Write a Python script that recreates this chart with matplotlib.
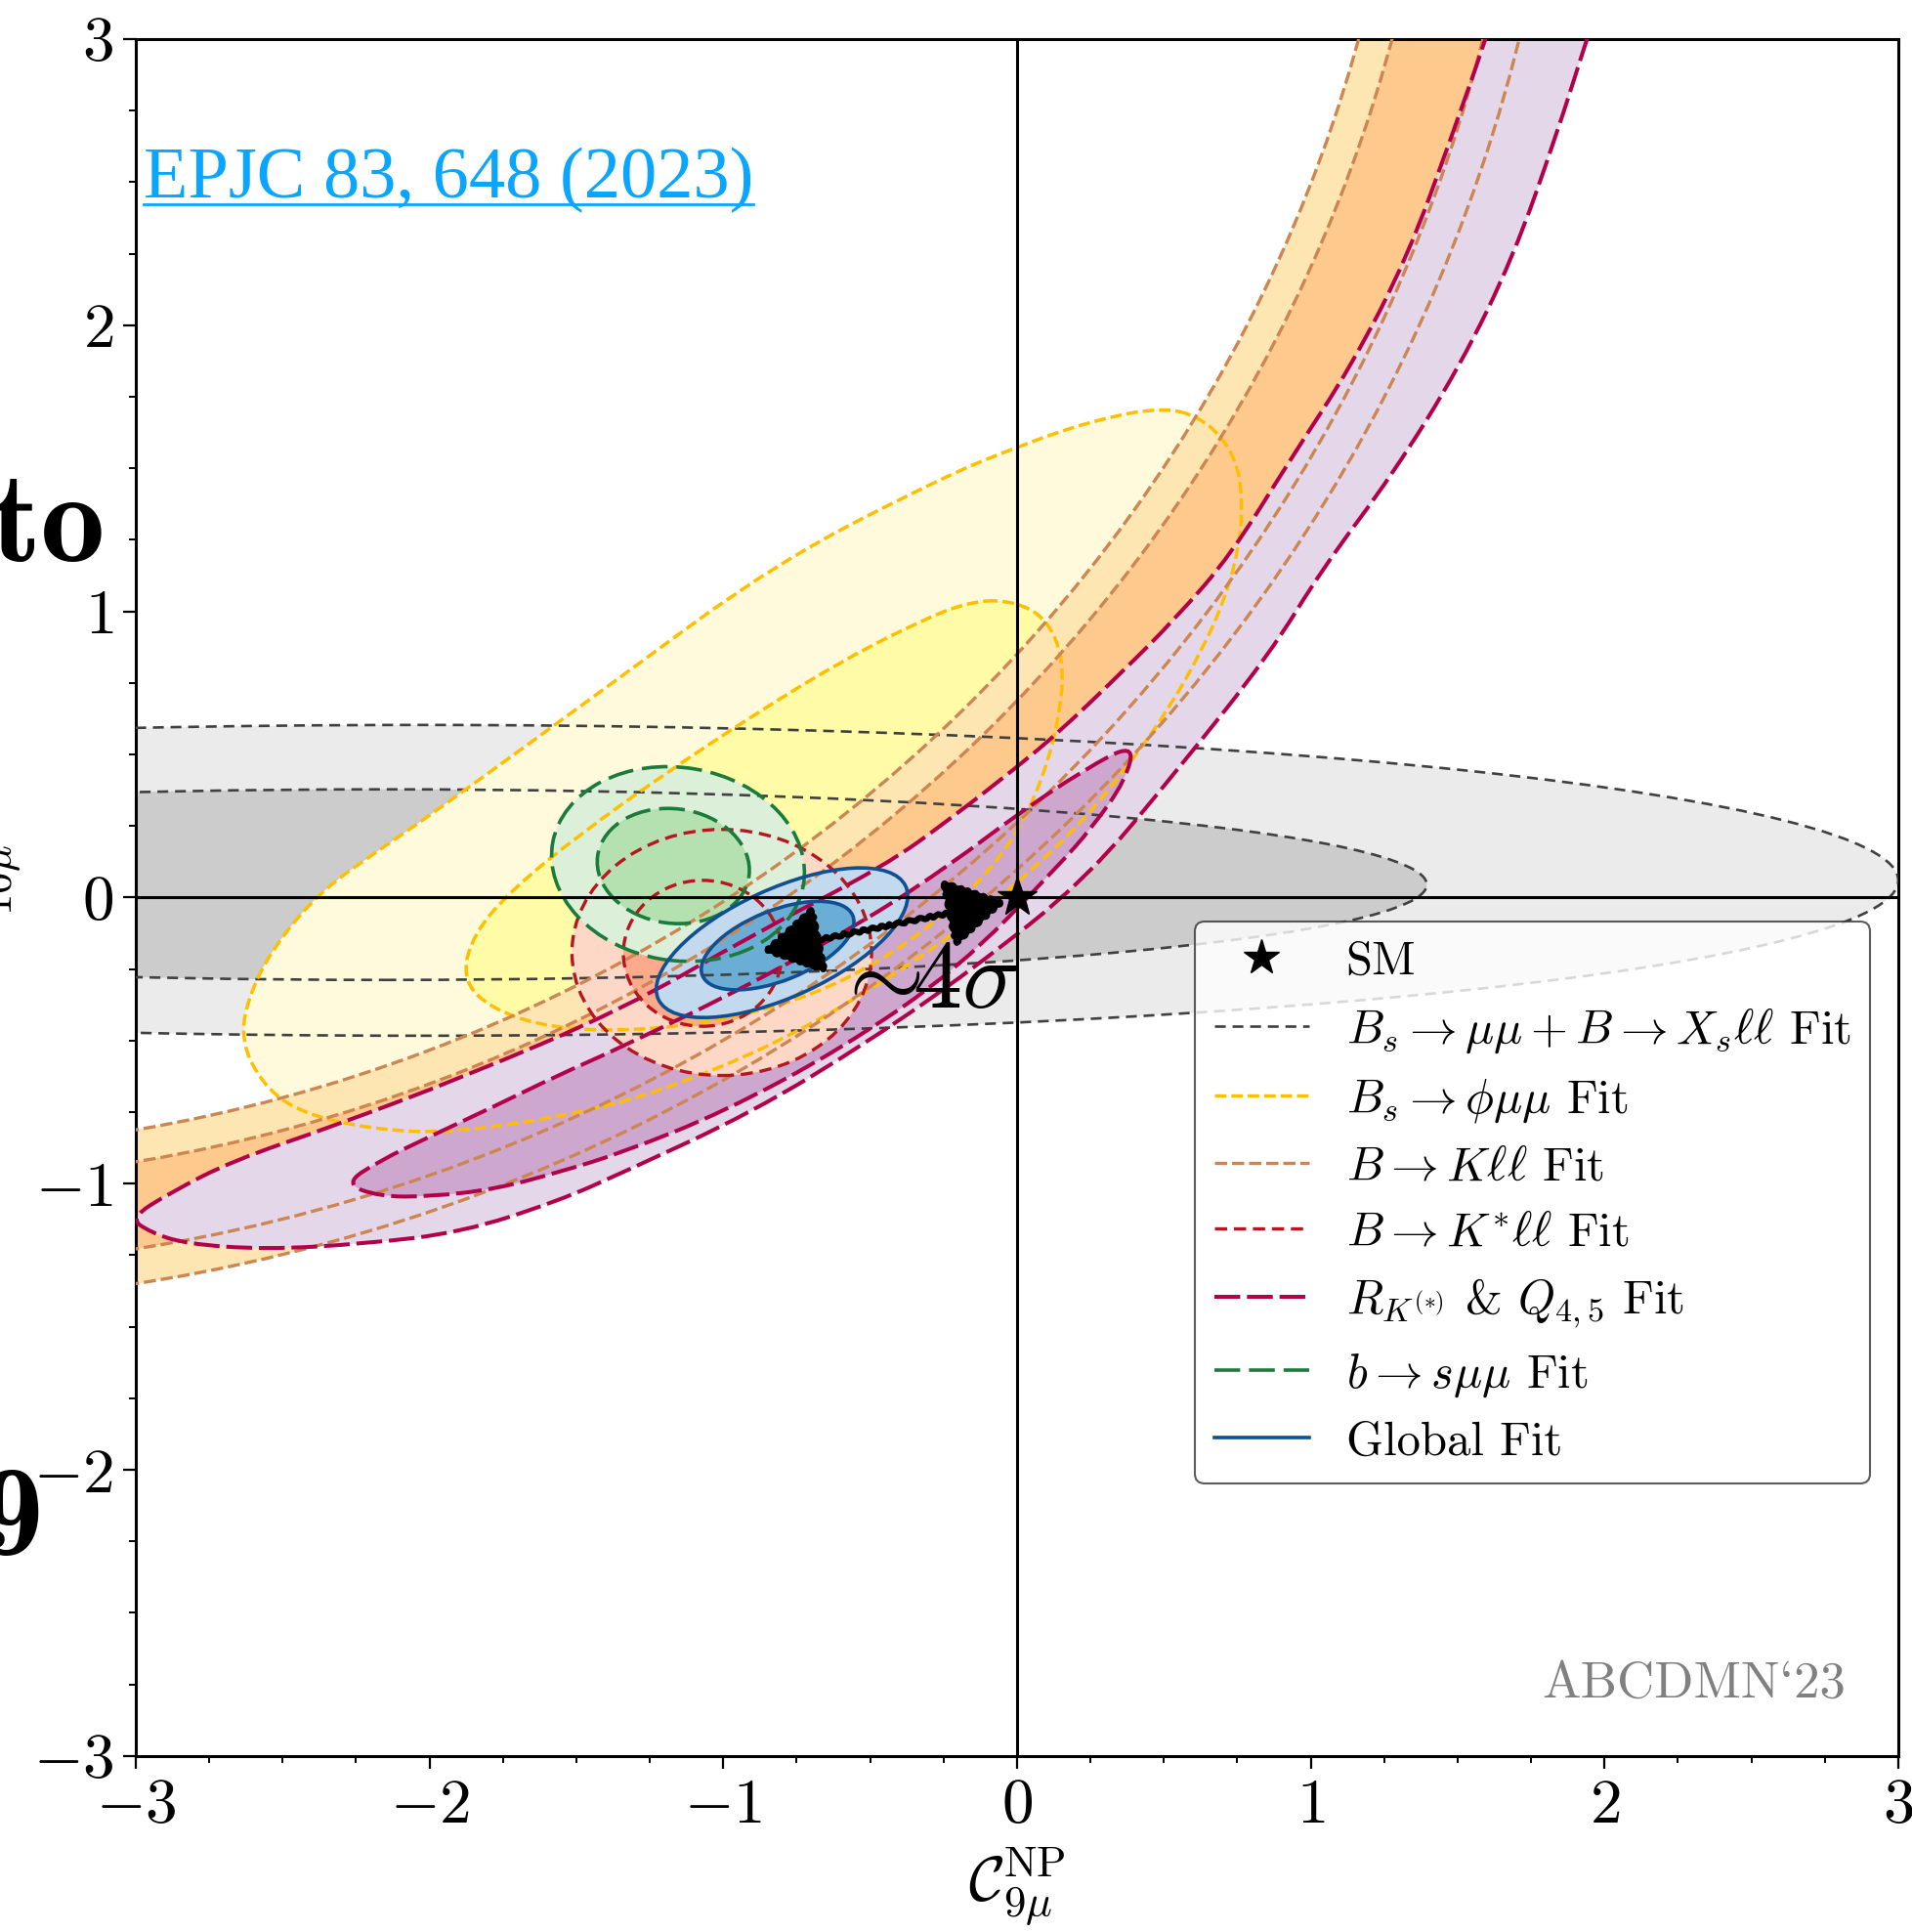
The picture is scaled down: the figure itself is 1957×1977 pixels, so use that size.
import numpy as np
import matplotlib
matplotlib.use("Agg")
import matplotlib.pyplot as plt
from matplotlib.patches import Ellipse, Annulus, Circle, PathPatch
from matplotlib.path import Path
from matplotlib.lines import Line2D
from matplotlib.ticker import MultipleLocator, AutoMinorLocator

plt.rcParams.update({
    "font.family": "serif",
    "font.serif": ["cmr10"],
    "mathtext.fontset": "cm",
    "axes.formatter.use_mathtext": True,
    "lines.scale_dashes": False,
})

# ---- data (C9 NP on x, C10 NP on y) ----
# ellipse regions: centre x, centre y, full width, full height, angle (deg)
bsmumu_2s = (-2.03, 0.06, 10.06, 1.086, 0.0)
bsmumu_1s = (-2.15, 0.045, 7.09, 0.666, 0.0)
kstar_2s = (-1.005, -0.192, 1.02, 0.86, 0.0)
kstar_1s = (-1.07, -0.195, 0.54, 0.51, 0.0)
bsmm_2s = (-1.154, 0.117, 0.866, 0.674, -10.0)
bsmm_1s = (-1.17, 0.11, 0.52, 0.40, -8.0)
global_2s = (-0.80, -0.158, 0.93, 0.376, 25.3)
global_1s = (-0.815, -0.168, 0.553, 0.245, 22.4)

# Bs -> phi mu mu : boundary points
phi_2s_x = [0.506, 0.25, 0.0, -0.25, -0.82, -1.39, -1.98, -2.18, -2.36, -2.50,
            -2.60, -2.646, -2.58, -2.45, -2.20, -1.91, -1.39, -1.011, -0.725,
            -0.439, -0.191, 0.038, 0.229, 0.382, 0.515, 0.630, 0.706, 0.754,
            0.769, 0.744, 0.649]
phi_2s_y = [1.717, 1.665, 1.575, 1.47, 1.17, 0.74, 0.30, 0.16, 0.03, -0.13,
            -0.30, -0.48, -0.64, -0.75, -0.81, -0.824, -0.736, -0.597, -0.458,
            -0.284, -0.110, 0.082, 0.273, 0.465, 0.656, 0.865, 1.039, 1.213,
            1.387, 1.543, 1.665]
phi_1s_x = [-0.038, 0.095, 0.162, 0.143, 0.086, 0.0, -0.134, -0.286, -0.477,
            -0.725, -1.011, -1.297, -1.584, -1.794, -1.889, -1.851, -1.717,
            -1.488, -1.202, -0.897, -0.591, -0.324, -0.172]
phi_1s_y = [1.042, 0.986, 0.830, 0.621, 0.412, 0.221, 0.047, -0.092, -0.231,
            -0.353, -0.431, -0.466, -0.458, -0.388, -0.284, -0.127, 0.030,
            0.221, 0.430, 0.638, 0.830, 0.969, 1.030]

# B -> K ll : circular bands around a common centre (inner, outer radius)
bkll_centre = (-3.9, 4.35)
bkll_2s = (5.24, 5.77)
bkll_1s = (5.35, 5.65)

# R_K(*) & Q4,5 : boundary points
rk_2s_x = [1.63, 1.596, 1.48, 1.33, 1.14, 0.93, 0.73, 0.54, 0.35, 0.14, 0.0,
           -0.22, -0.45, -0.9, -1.34, -1.89, -2.33, -2.67, -2.88, -3.02,
           -2.95, -2.83, -2.56, -2.22, -1.89, -1.56, -1.34, -0.9, -0.5, -0.15,
           0.236, 0.55, 0.86, 1.04, 1.28, 1.51, 1.69, 1.835, 1.94, 1.98]
rk_2s_y = [3.12, 3.0, 2.66, 2.24, 1.86, 1.53, 1.2, 0.975, 0.78, 0.575, 0.456,
           0.28, 0.11, -0.13, -0.39, -0.63, -0.80, -0.92, -1.03, -1.12,
           -1.17, -1.21, -1.23, -1.21, -1.17, -1.06, -0.96, -0.75, -0.5, -0.25,
           0.063, 0.45, 0.85, 1.15, 1.48, 1.86, 2.24, 2.66, 3.0, 3.12]
rk_1s_x = [0.40, 0.229, 0.0, -0.22, -0.5, -0.9, -1.34, -1.56, -1.78, -2.0,
           -2.17, -2.29, -2.17, -2.0, -1.78, -1.56, -1.34, -1.0, -0.6, -0.2,
           0.14, 0.256, 0.37]
rk_1s_y = [0.54, 0.447, 0.29, 0.12, -0.07, -0.3, -0.52, -0.62, -0.73, -0.836,
           -0.92, -1.00, -1.045, -1.045, -1.02, -0.96, -0.89, -0.75, -0.53, -0.25,
           0.11, 0.245, 0.41]

sm_point = (0.0, 0.0)
best_fit = (-0.868, -0.188)

legend_labels = [
    "SM",
    r"$B_s\to\mu\mu + B\to X_s\ell\ell$ Fit",
    r"$B_s\to\phi\mu\mu$ Fit",
    r"$B\to K\ell\ell$ Fit",
    r"$B\to K^{*}\ell\ell$ Fit",
    r"$R_{K^{(*)}}$ & $Q_{4,5}$ Fit",
    r"$b\to s\mu\mu$ Fit",
    "Global Fit",
]

# styles: (outer fill, inner fill, line colour, dash pattern, linewidth)
st_gray = ("#ebebeb", "#cccccc", "#404040", (0, (8, 5)), 1.9)
st_phi = ("#fffadb", "#fffba6", "#ffbf00", (0, (8.5, 3.6)), 2.5)
st_bk = ("#fee6b3", "#fec98c", "#cd8552", (0, (9, 3.6)), 2.4)
st_kst = ("#fdd8c6", "#fcaa8b", "#b5161f", (0, (9, 5)), 2.4)
st_rk = ("#e3d7e9", "#cea7cf", "#b3004b", (0, (19, 5)), 2.9)
st_bs = ("#dcf0d9", "#b5e1b1", "#1b7b3a", (0, (19, 6.5)), 2.6)
st_gl = ("#c3d9ee", "#6aaed6", "#0f4f92", "-", 2.6)


def spline_path(xs, ys):
    p = np.column_stack([xs, ys])
    m = (p + np.roll(p, -1, axis=0)) / 2
    verts = [m[-1]]
    codes = [Path.MOVETO]
    for i in range(len(p)):
        verts += [p[i], m[i]]
        codes += [Path.CURVE3, Path.CURVE3]
    verts.append(m[-1])
    codes.append(Path.CLOSEPOLY)
    return Path(verts, codes)


fig = plt.figure(figsize=(19.57, 19.77), dpi=100)
ax = fig.add_axes([0.0710, 0.0911, 0.9218, 0.8887])

z = [1.0]


def add_ellipse(par, fc, st):
    cx, cy, w, h, a = par
    ax.add_patch(Ellipse((cx, cy), w, h, angle=a, fc=fc, ec="none", zorder=z[0]))
    ax.add_patch(Ellipse((cx, cy), w, h, angle=a, fill=False, ec=st[2],
                         ls=st[3], lw=st[4], zorder=z[0] + 2))
    z[0] += 0.05


def add_shape(xs, ys, fc, st):
    path = spline_path(xs, ys)
    ax.add_patch(PathPatch(path, fc=fc, ec="none", zorder=z[0]))
    ax.add_patch(PathPatch(path, fill=False, ec=st[2], ls=st[3], lw=st[4],
                           zorder=z[0] + 2))
    z[0] += 0.05


def add_band(radii, fc, st):
    r_in, r_out = radii
    ax.add_patch(Annulus(bkll_centre, r_out, r_out - r_in, fc=fc, ec="none",
                         zorder=z[0]))
    for r in radii:
        ax.add_patch(Circle(bkll_centre, r, fill=False, ec=st[2], ls=st[3],
                            lw=st[4], zorder=z[0] + 2))
    z[0] += 0.05


add_ellipse(bsmumu_2s, st_gray[0], st_gray)
add_ellipse(bsmumu_1s, st_gray[1], st_gray)
add_shape(phi_2s_x, phi_2s_y, st_phi[0], st_phi)
add_shape(phi_1s_x, phi_1s_y, st_phi[1], st_phi)
add_band(bkll_2s, st_bk[0], st_bk)
add_band(bkll_1s, st_bk[1], st_bk)
add_shape(rk_2s_x, rk_2s_y, st_rk[0], st_rk)
add_shape(rk_1s_x, rk_1s_y, st_rk[1], st_rk)
add_ellipse(kstar_2s, st_kst[0], st_kst)
add_ellipse(kstar_1s, st_kst[1], st_kst)
add_ellipse(bsmm_2s, st_bs[0], st_bs)
add_ellipse(bsmm_1s, st_bs[1], st_bs)
add_ellipse(global_2s, st_gl[0], st_gl)
add_ellipse(global_1s, st_gl[1], st_gl)

ax.axhline(0, color="k", lw=2.2, zorder=4)
ax.axvline(0, color="k", lw=2.2, zorder=4)

# pull from best fit to SM
ann = ax.annotate("", xy=(sm_point[0] - 0.038, sm_point[1] - 0.014), xytext=best_fit,
                  arrowprops=dict(arrowstyle="<|-|>,head_length=1.7,head_width=1.0",
                                  color="k", lw=4.5, mutation_scale=22,
                                  shrinkA=0, shrinkB=0), zorder=5)
ann.arrow_patch.set_sketch_params(scale=1.2, length=10, randomness=2)
ax.text(-0.312, -0.385, r"${\sim}\!\!4\sigma$", fontsize=72, ha="center",
        va="baseline", zorder=6)

ax.plot(*sm_point, marker="*", ms=30, color="k", ls="none", zorder=7)

ax.set_xlim(-3, 3)
ax.set_ylim(-3, 3)
ax.xaxis.set_major_locator(MultipleLocator(1))
ax.yaxis.set_major_locator(MultipleLocator(1))
ax.xaxis.set_minor_locator(AutoMinorLocator(4))
ax.yaxis.set_minor_locator(AutoMinorLocator(4))
ax.tick_params(which="major", direction="out", length=9.4, width=1.6,
               labelsize=47, pad=7)
ax.tick_params(which="minor", direction="out", length=5, width=1.4)
for s in ax.spines.values():
    s.set_linewidth(2.2)

ax.set_xlabel(r"$\mathcal{C}_{9\mu}^{\rm NP}$", fontsize=46, labelpad=8)
ax.set_ylabel(r"$\mathcal{C}_{10\mu}^{\rm NP}$", fontsize=46)
ax.yaxis.set_label_coords(-0.064, 0.5)

handles = [Line2D([], [], marker="*", ms=27, color="k", ls="none")]
for st in (st_gray, st_phi, st_bk, st_kst, st_rk, st_bs, st_gl):
    handles.append(Line2D([], [], color=st[2], ls=st[3], lw=st[4]))
leg = ax.legend(handles, legend_labels, loc="upper left",
                bbox_to_anchor=(0.601, 0.486), borderaxespad=0, fontsize=35,
                fancybox=True, framealpha=0.8, edgecolor="#333333",
                handlelength=2.0, handletextpad=0.78, borderpad=0.4,
                labelspacing=0.46)
leg.get_frame().set_linewidth(1.5)
leg.set_zorder(10)

epjc = ax.text(-2.973, 2.447, "EPJC 83, 648 (2023)", fontfamily="Liberation Serif",
               fontsize=53.6, color="#0aa5ff", ha="left", va="baseline", zorder=8)
ax.text(0.970, 0.034, "ABCDMN`23", transform=ax.transAxes, fontsize=38,
        color="#808080", ha="right", va="baseline", zorder=8)

# cut-off pieces of the surrounding slide
fig.text(0.0552, 0.7097, "to", fontfamily="cmb10", fontsize=95, ha="right",
         va="baseline")
fig.text(0.0225, 0.1952, "9", fontfamily="cmb10", fontsize=95, ha="right",
         va="baseline")

fig.canvas.draw()
bb = epjc.get_window_extent()
base = ax.transData.transform((-2.973, 2.447))
inv = fig.transFigure.inverted()
p0 = inv.transform((bb.x0, base[1] - 7))
p1 = inv.transform((bb.x1, base[1] - 7))
fig.add_artist(Line2D([p0[0], p1[0]], [p0[1], p1[1]], color="#0aa5ff", lw=2.0,
                      transform=fig.transFigure))

fig.savefig("out.png", dpi=100)
